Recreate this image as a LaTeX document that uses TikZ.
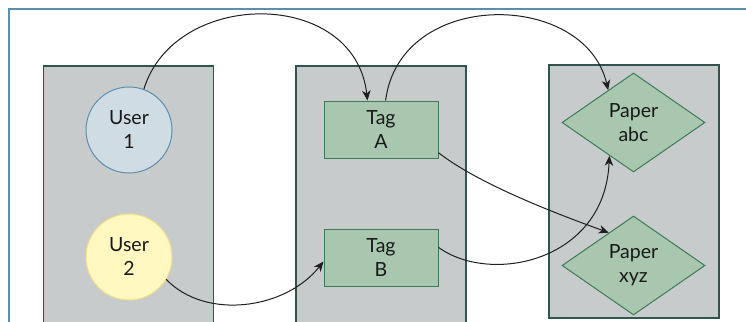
\documentclass[tikz,border=0pt]{standalone}
\usepackage{fontspec}
\setmainfont{Lato}
\usepackage{tikz}
\usetikzlibrary{arrows, arrows.meta, shapes}
\definecolor{rahmen}{RGB}{91,143,170}
\definecolor{panelgrau}{RGB}{200,203,204}
\definecolor{panelrand}{RGB}{47,85,80}
\definecolor{userblau}{RGB}{208,220,228}
\definecolor{userblaurand}{RGB}{91,143,175}
\definecolor{usergelb}{RGB}{255,248,192}
\definecolor{usergelbrand}{RGB}{242,222,138}
\definecolor{taggruen}{RGB}{168,199,174}
\definecolor{taggruenrand}{RGB}{62,123,88}

\begin{document}
\begin{tikzpicture}[x=1pt, y=-1pt,
				>={Stealth[length=10pt, width=8.5pt, inset=3pt]},   %Pfeilspitzen
				panel/.style={draw=panelrand, fill=panelgrau, line width=1.4pt, minimum width=170, inner sep=0pt},
				user/.style={circle, line width=1pt, minimum size=86, inner sep=0pt, align=center},
				tagbox/.style={rectangle, draw=taggruenrand, fill=taggruen, line width=1pt, minimum width=114, minimum height=57, inner sep=0pt, align=center},
				paper/.style={diamond, draw=taggruenrand, fill=taggruen, line width=1pt, minimum width=143, minimum height=99, shape aspect=1.44, inner sep=0pt, align=center},
				pfeil/.style={->, line width=1pt, color=black!88},
				font=\fontsize{19.5}{24}\selectfont, text=black!90]
				%Bildbereich
				\clip (0,0) rectangle (746,321);
				%Rahmen zeichnen
				\draw[rahmen, line width=1.5pt] (9,340) -- (9,9) -- (760,9);
				%Spalten
				\node[panel, minimum height=266] (spalteU) at (128.5,199) {};
				\node[panel, minimum height=266] (spalteT) at (381,199) {};
				\node[panel, minimum height=253] (spalteP) at (634,191.5) {};
				%Knoten
				\node[user, draw=userblaurand, fill=userblau] (user1) at (129,130) {User\\1};
				\node[user, draw=usergelbrand, fill=usergelb] (user2) at (129,257) {User\\2};
				\node[tagbox] (tagA) at (381,129.5) {Tag\\A};
				\node[tagbox] (tagB) at (381,257.5) {Tag\\B};
				\node[paper] (paperabc) at (633.5,122.5) {Paper\\abc};
				\node[paper] (paperxyz) at (633.5,265.5) {Paper\\xyz};
				%Pfeile zeichnen
				\draw[pfeil] (user1.70) .. controls (175,-12) and (355,-12) .. (tagA.115);
				\draw[pfeil] (user2.-31) .. controls (205,320) and (285,310) .. (tagB.184.5);
				\draw[pfeil] (tagA.81) .. controls (400,-12) and (585,-10) .. (paperabc.128);
				\draw[pfeil] (tagA.-22) .. controls (480,185) and (560,215) .. (paperxyz.127);
				\draw[pfeil] (tagB.10) .. controls (490,285) and (605,262) .. (paperabc.-126);
			\end{tikzpicture}
\end{document}
